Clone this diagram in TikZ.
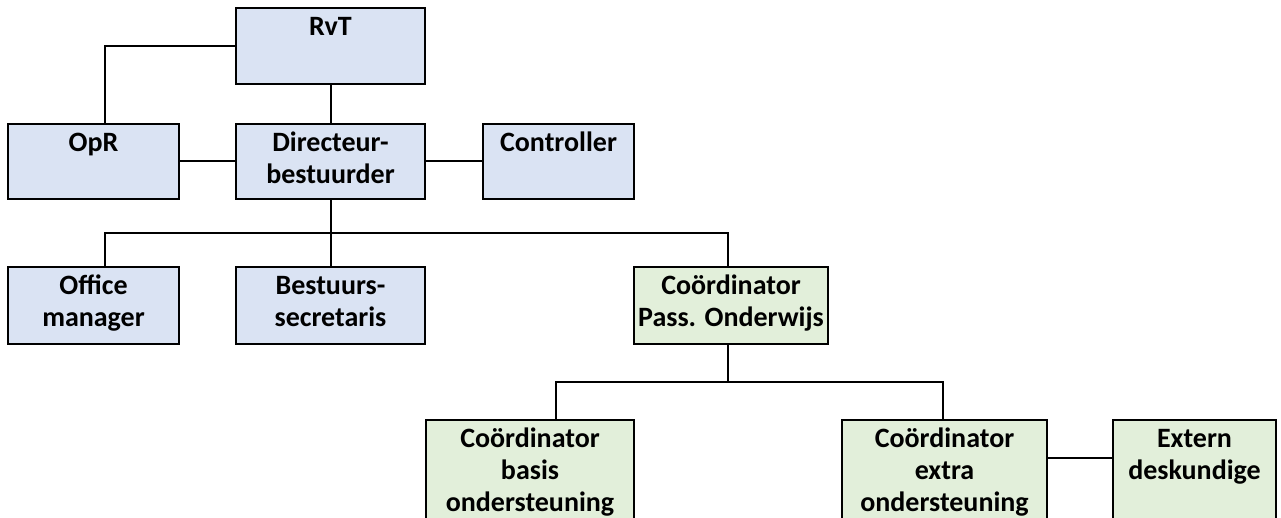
\documentclass[tikz,border=0pt]{standalone}
\usepackage{fontspec}
\setmainfont{Carlito}
\definecolor{boxblue}{RGB}{218,227,243}
\definecolor{boxgreen}{RGB}{226,239,218}
\newcommand{\orgtext}[3]{\parbox[c][#2pt][t]{#1pt}{\centering\rule{0pt}{27.5pt}#3}}
\begin{document}
\begin{tikzpicture}[x=1pt,y=-1pt,
  box/.style={draw=black, line width=2pt, inner sep=0pt, outer sep=0pt, anchor=north west,
    font=\bfseries\fontsize{28}{32}\selectfont},
  bluebox/.style={box, fill=boxblue},
  greenbox/.style={box, fill=boxgreen},
  link/.style={draw=black, line width=2pt}]
\useasboundingbox (0,0) rectangle (1281,518);
\clip (0,0) rectangle (1281,518);
\fill[white] (0,0) rectangle (1281,518);

\node[bluebox] (RvT) at (236,8) {\orgtext{189}{76}{RvT}};
\node[bluebox] (OpR) at (8,124) {\orgtext{171}{75}{OpR}};
\node[bluebox] (Dir) at (236,124) {\orgtext{189}{75}{Directeur-\\bestuurder}};
\node[bluebox] (Ctrl) at (483,124) {\orgtext{151}{75}{Controller}};
\node[bluebox] (Office) at (8,267) {\orgtext{171}{77}{Office\\manager}};
\node[bluebox] (Best) at (236,267) {\orgtext{189}{77}{Bestuurs-\\secretaris}};
\node[greenbox] (PO) at (634,267) {\orgtext{194}{77}{Coördinator\\Pass. Onderwijs}};
\node[greenbox] (Basis) at (426,420) {\orgtext{208}{120}{Coördinator\\basis\\ondersteuning}};
\node[greenbox] (Extra) at (842,420) {\orgtext{205}{120}{Coördinator\\extra\\ondersteuning}};
\node[greenbox] (Extern) at (1113,420) {\orgtext{163}{120}{Extern\\deskundige}};

\coordinate (bus1) at (330.5,233);
\coordinate (bus2) at (728,382);

\draw[link] (RvT.west) -| ([xshift=11.5pt]OpR.north);
\draw[link] (RvT) -- (Dir);
\draw[link] (OpR) -- (Dir);
\draw[link] (Dir) -- (Ctrl);
\draw[link] (Dir) -- (Best);
\draw[link] ([xshift=11.5pt]Office.north) |- (bus1) -| ([xshift=-3pt]PO.north);
\draw[link] ([xshift=-3pt]PO.south) -- (bus2);
\draw[link] ([xshift=26pt]Basis.north) |- (bus2) -| ([xshift=-1.5pt]Extra.north);
\draw[link] ([yshift=-38pt]Extra.north east) -- ([yshift=-38pt]Extern.north west);
\end{tikzpicture}
\end{document}
